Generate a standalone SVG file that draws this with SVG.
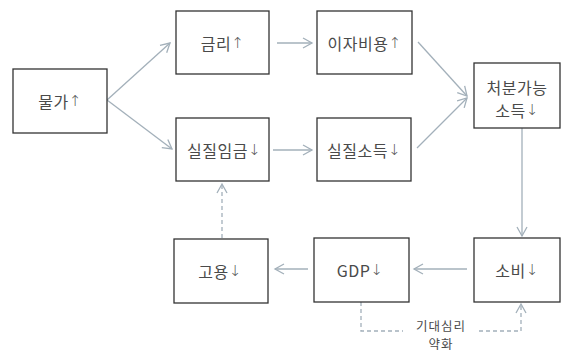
<svg xmlns="http://www.w3.org/2000/svg" width="566" height="352" viewBox="0 0 566 352">
<style>
.box{fill:#fff;stroke:#333;stroke-width:1.3}
.t{font-family:"Noto Sans CJK KR","Noto Sans",sans-serif;font-size:16px;letter-spacing:0.5px;fill:#4a4a4a;text-anchor:middle;dominant-baseline:central}
.a{font-family:"DejaVu Sans",sans-serif;font-size:15px;font-weight:200;fill:#555}
.s{font-size:12.5px;letter-spacing:1px}
.c{stroke:#a3b0ba;stroke-width:1.3;fill:none}
.d{stroke-dasharray:4 3}
</style>
<defs>
<marker id="ah" markerWidth="12" markerHeight="12" refX="10" refY="6" orient="auto" markerUnits="userSpaceOnUse">
<path d="M1,1 L10,6 L1,11" fill="none" stroke="#a3b0ba" stroke-width="1.3"/>
</marker>
</defs>
<rect width="566" height="352" fill="#fff"/>
<g id="connectors">
<path class="c" d="M107,100 L170,43" marker-end="url(#ah)"/>
<path class="c" d="M107,100 L172,149" marker-end="url(#ah)"/>
<path class="c" d="M277,43 L312,43" marker-end="url(#ah)"/>
<path class="c" d="M273,150 L312,150" marker-end="url(#ah)"/>
<path class="c" d="M418,42 L467,96" marker-end="url(#ah)"/>
<path class="c" d="M417,148 L467,98" marker-end="url(#ah)"/>
<path class="c" d="M522,128 L522,236" marker-end="url(#ah)"/>
<path class="c" d="M467,269 L414,269" marker-end="url(#ah)"/>
<path class="c" d="M308,269 L275,269" marker-end="url(#ah)"/>
<path class="c d" d="M222,238 L222,184" marker-end="url(#ah)"/>
<path class="c d" d="M361,302 L361,331 L403,331"/>
<path class="c d" d="M479,331 L521,331 L521,304" marker-end="url(#ah)"/>
<text class="t s" x="441" y="325">기대심리</text>
<text class="t s" x="441" y="343">약화</text>
</g>
<g id="n-price"><rect class="box" x="13" y="69" width="94" height="64"/><text class="t" x="60" y="101">물가<tspan class="a">↑</tspan></text></g>
<g id="n-rate"><rect class="box" x="176" y="11" width="93" height="63"/><text class="t" x="222.5" y="42.5">금리<tspan class="a">↑</tspan></text></g>
<g id="n-realwage"><rect class="box" x="176" y="118" width="93" height="63"/><text class="t" x="224" y="149.5">실질임금<tspan class="a">↓</tspan></text></g>
<g id="n-interest"><rect class="box" x="317" y="11" width="95" height="63"/><text class="t" x="364.5" y="42.5">이자비용<tspan class="a">↑</tspan></text></g>
<g id="n-realincome"><rect class="box" x="317" y="118" width="94" height="63"/><text class="t" x="364" y="149.5">실질소득<tspan class="a">↓</tspan></text></g>
<g id="n-disposable"><rect class="box" x="474" y="63" width="86" height="65"/><text class="t" x="517" y="87">처분가능</text><text class="t" x="517" y="110">소득<tspan class="a">↓</tspan></text></g>
<g id="n-consumption"><rect class="box" x="474" y="238" width="86" height="64"/><text class="t" x="517" y="270">소비<tspan class="a">↓</tspan></text></g>
<g id="n-gdp"><rect class="box" x="314" y="238" width="95" height="64"/><text class="t" x="360" y="270">GDP<tspan class="a">↓</tspan></text></g>
<g id="n-employment"><rect class="box" x="174" y="239" width="94" height="64"/><text class="t" x="220" y="271">고용<tspan class="a">↓</tspan></text></g>
</svg>
